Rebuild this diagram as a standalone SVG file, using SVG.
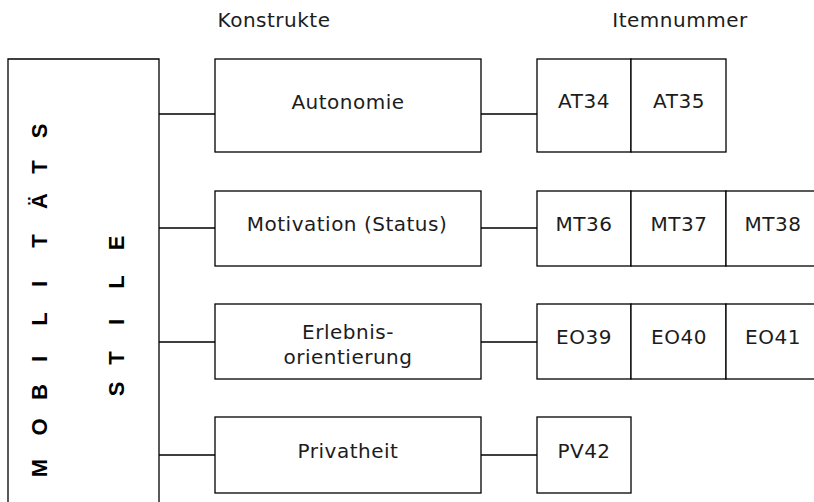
<svg xmlns="http://www.w3.org/2000/svg" width="814" height="502" viewBox="0 0 814 502">
  <style>
    .box { fill: #ffffff; stroke: #000000; stroke-width: 1.3; }
    .wire { fill: none; stroke: #000000; stroke-width: 1.3; }
    .lbl { font-family: "DejaVu Sans", Verdana, sans-serif; font-size: 20px; letter-spacing: 0.5px; fill: #1c1c1c; text-anchor: middle; }
    .vert { font-family: "Liberation Sans", Arial, sans-serif; font-size: 22px; font-weight: bold; fill: #000000; text-anchor: middle; }
  </style>
  <rect width="814" height="502" fill="#ffffff"/>

  <!-- column headers -->
  <g id="headers">
    <text class="lbl" x="274" y="27">Konstrukte</text>
    <text class="lbl" x="680" y="27">Itemnummer</text>
  </g>

  <!-- left frame with vertical title -->
  <g id="mobilitaetsstile">
    <path class="wire" d="M8,504 V59 H159 V504"/>
    <g transform="translate(46.5,500) rotate(-90)">
      <text class="vert" x="32 73 108 141 181 216 259 299 333 369" y="0">MOBILITÄTS</text>
    </g>
    <g transform="translate(123.5,500) rotate(-90)">
      <text class="vert" x="111 142 178 218 257" y="0">STILE</text>
    </g>
  </g>

  <!-- connectors -->
  <g id="connectors">
    <path class="wire" d="M159,114 H215 M481,114 H537"/>
    <path class="wire" d="M159,228 H215 M481,228 H537"/>
    <path class="wire" d="M159,342 H215 M481,342 H537"/>
    <path class="wire" d="M159,455 H215 M481,455 H537"/>
  </g>

  <!-- constructs -->
  <g id="autonomie">
    <rect class="box" x="215" y="59" width="266" height="93"/>
    <text class="lbl" x="348" y="109">Autonomie</text>
  </g>
  <g id="motivation">
    <rect class="box" x="215" y="191" width="266" height="75"/>
    <text class="lbl" x="347" y="231">Motivation (Status)</text>
  </g>
  <g id="erlebnisorientierung">
    <rect class="box" x="215" y="304" width="266" height="75"/>
    <text class="lbl" x="348" y="338.5">Erlebnis-</text>
    <text class="lbl" x="348" y="364">orientierung</text>
  </g>
  <g id="privatheit">
    <rect class="box" x="215" y="417" width="266" height="76"/>
    <text class="lbl" x="348" y="458">Privatheit</text>
  </g>

  <!-- item numbers -->
  <g id="items-at">
    <rect class="box" x="537" y="59" width="94" height="93"/>
    <rect class="box" x="631" y="59" width="95" height="93"/>
    <text class="lbl" x="584" y="108">AT34</text>
    <text class="lbl" x="679" y="108">AT35</text>
  </g>
  <g id="items-mt">
    <rect class="box" x="537" y="191" width="94" height="75"/>
    <rect class="box" x="631" y="191" width="95" height="75"/>
    <rect class="box" x="726" y="191" width="94" height="75"/>
    <text class="lbl" x="584" y="231">MT36</text>
    <text class="lbl" x="679" y="231">MT37</text>
    <text class="lbl" x="773" y="231">MT38</text>
  </g>
  <g id="items-eo">
    <rect class="box" x="537" y="304" width="94" height="75"/>
    <rect class="box" x="631" y="304" width="95" height="75"/>
    <rect class="box" x="726" y="304" width="94" height="75"/>
    <text class="lbl" x="584" y="344">EO39</text>
    <text class="lbl" x="679" y="344">EO40</text>
    <text class="lbl" x="773" y="344">EO41</text>
  </g>
  <g id="items-pv">
    <rect class="box" x="537" y="417" width="94" height="76"/>
    <text class="lbl" x="584" y="458">PV42</text>
  </g>
</svg>
